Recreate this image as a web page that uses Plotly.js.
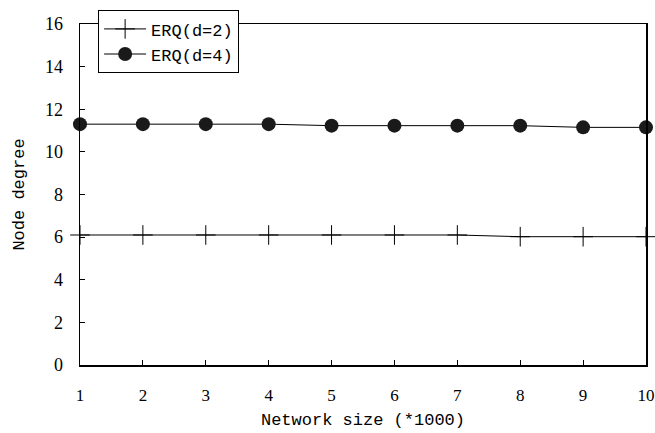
<!DOCTYPE html>
<html><head><meta charset="utf-8">
<script src="https://cdn.plot.ly/plotly-3.0.1.min.js"></script>
<style>html,body{margin:0;padding:0;background:#fff}</style>
</head><body><div id="chart" style="width:655px;height:433px"></div>
<script>
const networkSize = [1,2,3,4,5,6,7,8,9,10];
const erqD2 = [6.1,6.1,6.1,6.1,6.1,6.1,6.1,6.02,6.02,6.02];
const erqD4 = [11.3,11.3,11.3,11.3,11.23,11.23,11.23,11.23,11.15,11.15];
const yTicks = [0,2,4,6,8,10,12,14,16];

const MONO = 'Liberation Mono';
const SERIF = 'Liberation Serif';

const traces = [
  {x: networkSize, y: erqD2, name: 'ERQ(d=2)', mode: 'lines+markers', cliponaxis: false,
   line: {color: '#000', width: 1},
   marker: {symbol: 'cross-thin', size: 14, line: {color: '#000', width: 1}}},
  {x: networkSize, y: erqD4, name: 'ERQ(d=4)', mode: 'lines+markers', cliponaxis: false,
   line: {color: '#000', width: 1},
   marker: {symbol: 'circle', size: 14, color: '#1a1a1a'}}
];

const layout = {
  width: 655, height: 433,
  margin: {l: 80, r: 9, t: 24, b: 68},
  paper_bgcolor: '#fff', plot_bgcolor: '#fff',
  showlegend: true,
  legend: {x: 0.032, y: 1.04, xanchor: 'left', yanchor: 'top',
    bgcolor: '#fff', bordercolor: '#000', borderwidth: 1,
    font: {family: MONO, size: 17, color: '#000'},
    itemwidth: 42, tracegroupgap: 0},
  xaxis: {range: [1, 10], tickvals: networkSize, ticks: 'inside', ticklen: 5,
    tickcolor: '#000', showline: true, linecolor: '#000', linewidth: 1.5, mirror: true,
    showgrid: false, zeroline: false, ticklabelstandoff: 14, ticklabeloverflow: 'allow',
    tickfont: {family: SERIF, size: 17, color: '#000'},
    title: {text: 'Network size (*1000)', standoff: 9,
      font: {family: MONO, size: 17, color: '#000'}}},
  yaxis: {range: [0, 16], tickvals: yTicks, ticks: 'inside', ticklen: 5,
    tickcolor: '#000', showline: true, linecolor: '#000', linewidth: 1.5, mirror: true,
    showgrid: false, zeroline: false, ticklabelstandoff: 12,
    tickfont: {family: SERIF, size: 18, color: '#000'},
    title: {text: 'Node degree', standoff: 16,
      font: {family: MONO, size: 17, color: '#000'}}}
};
Plotly.newPlot('chart', traces, layout, {displayModeBar: false, staticPlot: true});
</script></body></html>
